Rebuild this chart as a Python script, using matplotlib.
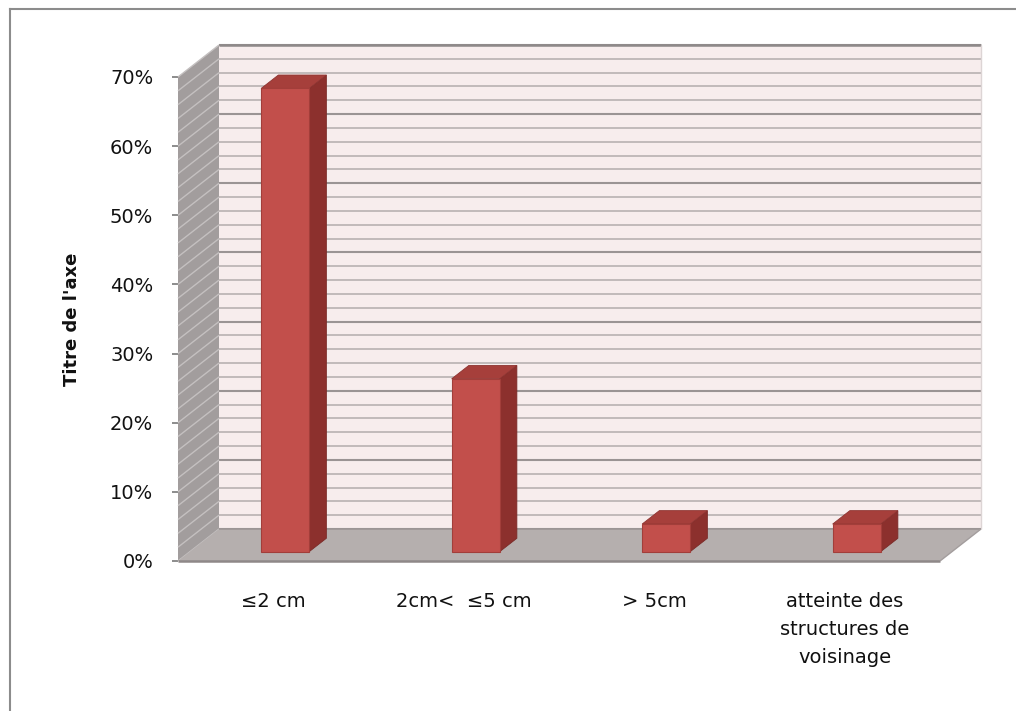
import matplotlib
matplotlib.use("Agg")
import matplotlib.pyplot as plt
from matplotlib.patches import Polygon
from matplotlib.lines import Line2D
import numpy as np

# ---- data ----
categories = ["≤2 cm", "2cm<  ≤5 cm", "> 5cm", "atteinte des\nstructures de\nvoisinage"]
values = [67, 25, 4, 4]
y_ticks = [0, 10, 20, 30, 40, 50, 60, 70]
y_tick_labels = ["0%", "10%", "20%", "30%", "40%", "50%", "60%", "70%"]
axis_title = "Titre de l'axe"

# ---- figure ----
W, H, DPI = 1016, 711, 100
fig = plt.figure(figsize=(W / DPI, H / DPI), dpi=DPI)
fig.patch.set_facecolor("white")
plt.rcParams["font.family"] = ["DejaVu Sans"]

ax = fig.add_axes([178 / W, 150 / H, 762 / W, 484 / H])
x_lo, x_hi = -0.5, len(categories) - 0.5
v_lo, v_hi = 0, 70
ax.set_xlim(x_lo, x_hi)
ax.set_ylim(v_lo, v_hi)
for s in ax.spines.values():
    s.set_visible(False)
ax.set_facecolor("none")

# oblique depth projection (full depth shifts right and up)
DX = 41 / 762 * (x_hi - x_lo)
DY = 32 / 484 * (v_hi - v_lo)


def P(x, v, d):
    return (x + DX * d, v + DY * d)


def poly(pts, fc, ec="none", lw=0, z=1):
    ax.add_patch(Polygon(pts, closed=True, facecolor=fc, edgecolor=ec,
                         linewidth=lw, clip_on=False, zorder=z))


def seg(p, q, color, lw, z=2):
    ax.add_line(Line2D([p[0], q[0]], [p[1], q[1]], color=color, linewidth=lw,
                       clip_on=False, zorder=z, solid_capstyle="butt"))


# back wall
poly([P(x_lo, v_lo, 1), P(x_hi, v_lo, 1), P(x_hi, v_hi, 1), P(x_lo, v_hi, 1)],
     "#f7eded", z=1)
# left wall
poly([P(x_lo, v_lo, 0), P(x_lo, v_hi, 0), P(x_lo, v_hi, 1), P(x_lo, v_lo, 1)],
     "#a29d9d", z=1)

grid_vals = np.arange(v_lo, v_hi + 0.01, 2)
for v in grid_vals:
    major = (round(v) % 10 == 0)
    col = "#9a9494" if major else "#bdb6b6"
    seg(P(x_lo, v, 1), P(x_hi, v, 1), col, 1.5 if major else 1.3, z=2)
    seg(P(x_lo, v, 0), P(x_lo, v, 1), "#c4c0c0", 1.0, z=2)
seg(P(x_lo, v_hi, 1), P(x_hi, v_hi, 1), "#8e8989", 1.8, z=2)
seg(P(x_hi, v_lo, 1), P(x_hi, v_hi, 1), "#ddd5d5", 1.0, z=2)

# floor
poly([P(x_lo, 0, 0), P(x_hi, 0, 0), P(x_hi, 0, 1), P(x_lo, 0, 1)], "#b5afae", z=3)
seg(P(x_lo, 0, 1), P(x_hi, 0, 1), "#9c9696", 1.2, z=3)
seg(P(x_lo, 0, 0), P(x_hi, 0, 0), "#8e8888", 1.8, z=3)
seg(P(x_hi, 0, 0), P(x_hi, 0, 1), "#a39d9d", 1.0, z=3)

# bars (front, top and right faces)
d0, d1 = 0.29, 0.71
hw = 0.126
for i, v in enumerate(values):
    x0, x1 = i - hw, i + hw
    poly([P(x1, 0, d0), P(x1, 0, d1), P(x1, v, d1), P(x1, v, d0)],
         "#8c302d", "#7a2a27", 0.6, z=5)
    poly([P(x0, v, d0), P(x1, v, d0), P(x1, v, d1), P(x0, v, d1)],
         "#a63f3b", "#8e3431", 0.6, z=5)
    poly([P(x0, 0, d0), P(x1, 0, d0), P(x1, v, d0), P(x0, v, d0)],
         "#c24f4b", "#a23e3a", 0.8, z=6)

# axes ticks and labels
ax.set_yticks(y_ticks, y_tick_labels)
ax.tick_params(axis="y", direction="out", length=4.3, width=1.4,
               color="#8c8c8c", pad=13.5, labelsize=14, labelcolor="#111111")
ax.set_xticks(range(len(categories)), categories)
ax.tick_params(axis="x", length=0, pad=22, labelsize=14, labelcolor="#111111")
for lab in ax.get_xticklabels():
    lab.set_linespacing(1.6)
    lab.set_va("top")

fig.text(72 / W, 1 - 319 / H, axis_title, rotation=90, ha="center", va="center",
         fontsize=13, fontweight="bold", color="#111111")

# chart area frame
fig.add_artist(Line2D([10 / W, 10 / W], [0, 1 - 9 / H], transform=fig.transFigure,
                      color="#8c8c8c", linewidth=1.5))
fig.add_artist(Line2D([10 / W, 1], [1 - 9 / H, 1 - 9 / H], transform=fig.transFigure,
                      color="#8c8c8c", linewidth=1.5))

fig.savefig("out.png", dpi=DPI, facecolor="white")
